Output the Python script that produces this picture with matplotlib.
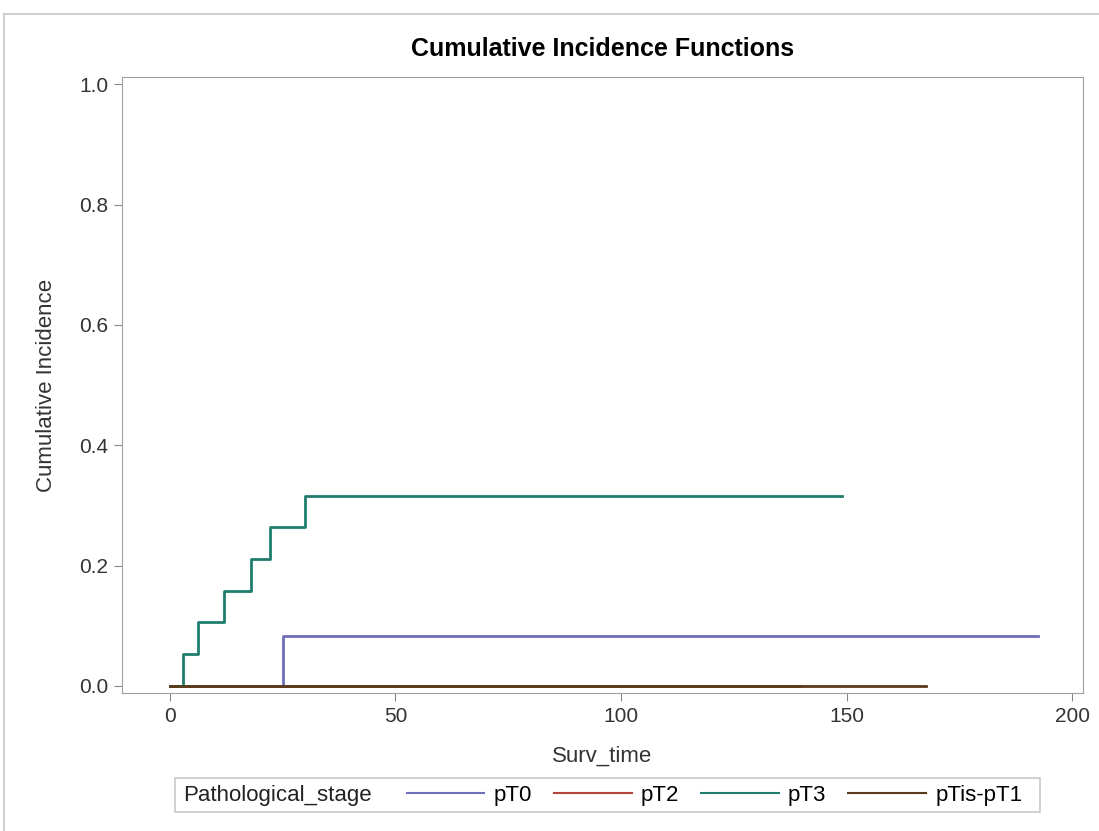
import matplotlib
matplotlib.use("Agg")
import matplotlib.pyplot as plt
from matplotlib.lines import Line2D
from matplotlib.patches import Rectangle

plt.rcParams["font.family"] = ["Liberation Sans", "DejaVu Sans"]

# step curves: (time, cumulative incidence)
pt0_time = [0, 25, 192.5]
pt0_cif = [0.0, 0.0833, 0.0833]
pt2_time = [0, 140]
pt2_cif = [0.0, 0.0]
pt3_time = [0, 3, 6.3, 12, 18, 22.3, 30, 149]
pt3_cif = [0.0, 0.0526, 0.1053, 0.1579, 0.2105, 0.2632, 0.3158, 0.3158]
pt1_time = [0, 167.5]
pt1_cif = [0.0, 0.0]

stages = ["pT0", "pT2", "pT3", "pTis-pT1"]
colors = ["#6e6fb8", "#b5443c", "#1f7d6e", "#5a3a1a"]
xticks = [0, 50, 100, 150, 200]
yticks = [0.0, 0.2, 0.4, 0.6, 0.8, 1.0]

fig = plt.figure(figsize=(10.99, 8.31), dpi=100)
ax = fig.add_axes([0.111, 0.166, 0.8744, 0.7414])

series = [(pt0_time, pt0_cif), (pt2_time, pt2_cif), (pt3_time, pt3_cif), (pt1_time, pt1_cif)]
order = [1, 0, 2, 3]
for i in order:
    t, c = series[i]
    ax.step(t, c, where="post", color=colors[i], lw=2, zorder=2 + i)

ax.set_xlim(-10.6, 202.4)
ax.set_ylim(-0.012, 1.012)
ax.set_xticks(xticks)
ax.set_yticks(yticks)
ax.set_yticklabels([f"{v:.1f}" for v in yticks])
ax.tick_params(direction="out", length=6, color="#888888", labelsize=15,
               labelcolor="#333333", pad=4)
for s in ax.spines.values():
    s.set_color("#a0a0a0")

ax.set_xlabel("Surv_time", fontsize=16, color="#333333", labelpad=14)
ax.set_ylabel("Cumulative Incidence", fontsize=16, color="#333333", labelpad=16)
ax.set_title("Cumulative Incidence Functions", fontsize=18, fontweight="bold", pad=15)

# legend box at the bottom
fig.patches.append(Rectangle((0.1592, 0.0229), 0.7871, 0.0409, transform=fig.transFigure,
                             facecolor="white", edgecolor="#c8c8c8", lw=1.2, zorder=0))
fig.text(0.167, 0.0433, "Pathological_stage", fontsize=16, color="#222222",
         ha="left", va="center")
handles = [Line2D([], [], color=c, lw=1.5) for c in colors]
fig.legend(handles, stages, loc="center left", bbox_to_anchor=(0.370, 0.0433), ncol=4,
           frameon=False, fontsize=16, handlelength=3.5, handletextpad=0.4,
           columnspacing=1.0, borderaxespad=0, borderpad=0)

# outer border
fig.patches.append(Rectangle((0.004, -0.01), 1.1, 1 - 0.0168 + 0.01, transform=fig.transFigure,
                             facecolor="none", edgecolor="#d0d0d0", lw=1.5, zorder=0))

fig.savefig("out.png", dpi=100)
